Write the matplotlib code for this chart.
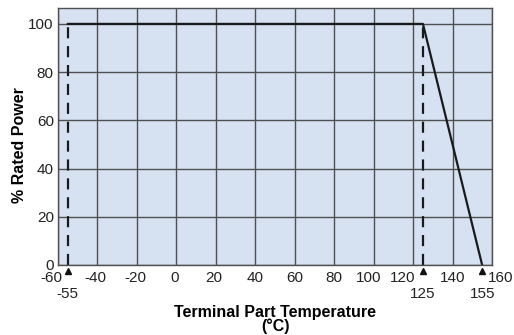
import matplotlib
matplotlib.use("Agg")
from matplotlib import pyplot as plt
from matplotlib import transforms

plt.rcParams['font.family'] = ['Liberation Sans', 'DejaVu Sans']
plt.rcParams['axes.unicode_minus'] = False

# derating curve
curve_x = [-55, 125, 155]
curve_y = [100, 100, 0]

# dashed limit lines
limit_x = [-55, 125]
limit_top = 100

x_ticks = list(range(-60, 161, 20))
y_ticks = list(range(0, 101, 20))
marker_x = [-55, 125, 155]
marker_labels = ["-55", "125", "155"]

# horizontal nudges (pixels) so labels sit clear of the triangle markers
x_label_dx = {-60: -7, -40: -2, -20: -2, 0: -2, 20: -2, 100: -5, 120: -10, 160: 9}

fig = plt.figure(figsize=(5.14, 3.35), dpi=100)
ax = fig.add_axes([58/514, 1 - 265/335, 434/514, 257/335])
ax.set_facecolor("#d6e2f2")

ax.set_xlim(-60, 160)
ax.set_ylim(0, 106.6)
ax.set_xticks(x_ticks)
ax.set_xticklabels([])
ax.set_yticks(y_ticks)
ax.tick_params(length=0, labelsize=11, colors="#222222")
ax.tick_params(axis="y", pad=3)
ax.grid(True, color="#505050", linewidth=1.0)
ax.set_axisbelow(True)
for s in ax.spines.values():
    s.set_color("#505050")
    s.set_linewidth(1.0)

for xv in limit_x:
    ax.plot([xv, xv], [0, limit_top], color="#1a1a1a", linewidth=1.6,
            dashes=(5, 3.5), solid_capstyle="butt")
ax.plot(curve_x, curve_y, color="#1a1a1a", linewidth=1.6)

# first row of x labels
for xv in x_ticks:
    dx = x_label_dx.get(xv, 0) * 0.72
    ax.annotate(str(xv), xy=(xv, 0), xytext=(dx, -9), textcoords="offset points",
                ha="center", va="center", fontsize=11, color="#222222",
                annotation_clip=False)

# triangle markers and second row of labels
off = transforms.ScaledTranslation(0, -6/100, fig.dpi_scale_trans)
ax.plot(marker_x, [0]*len(marker_x), linestyle="none", marker="^",
        markersize=5, color="#111111", clip_on=False,
        transform=ax.transData + off)
for xv, lab in zip(marker_x, marker_labels):
    ax.annotate(lab, xy=(xv, 0), xytext=(0, -21), textcoords="offset points",
                ha="center", va="center", fontsize=11, color="#222222",
                annotation_clip=False)

ax.set_xlabel("Terminal Part Temperature\n(°C)", fontsize=11.5, fontweight="bold",
              linespacing=0.85)
ax.xaxis.set_label_coords(0.5, -0.212)
ax.xaxis.label.set_va("center")
ax.set_ylabel("% Rated Power", fontsize=11.5, fontweight="bold")
ax.yaxis.set_label_coords(-0.071, 0.467)

fig.savefig("out.png", dpi=100)
